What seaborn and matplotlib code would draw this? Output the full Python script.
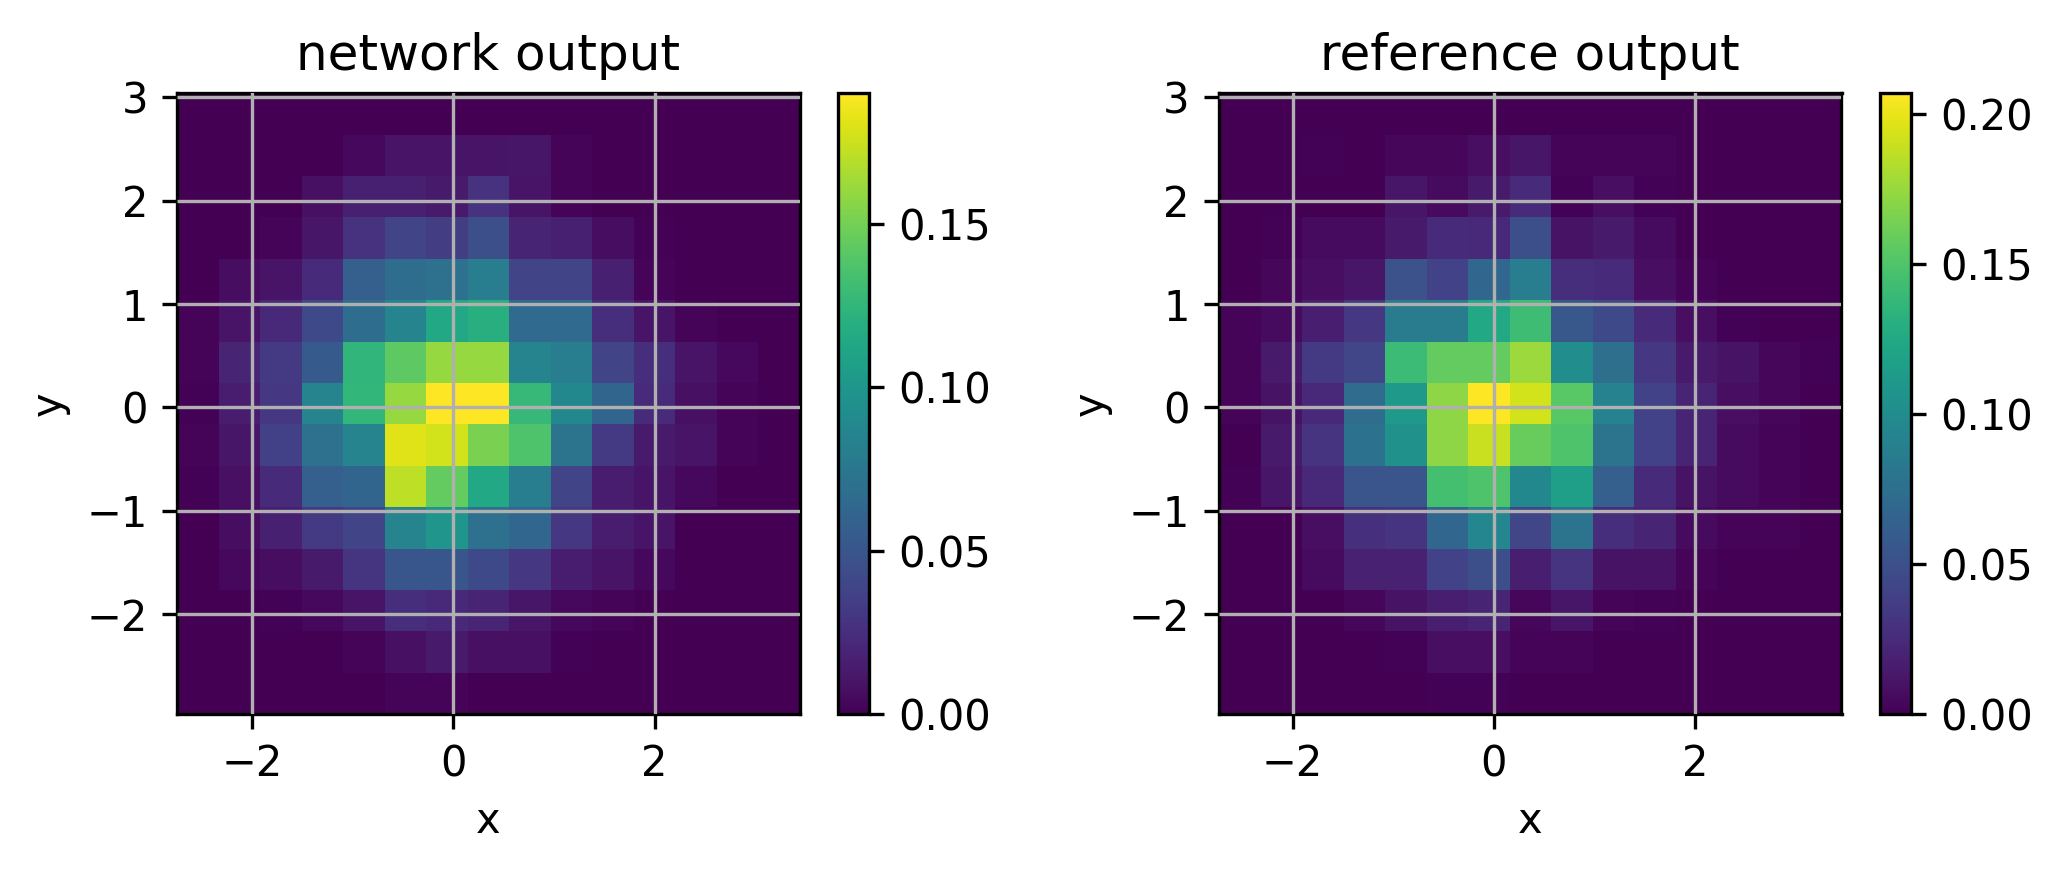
import numpy as np
import pandas as pd
import matplotlib
matplotlib.use("Agg")
import matplotlib.pyplot as plt
import seaborn as sns

# extent of the 2d histograms
x_ranges = [(-2.74, 3.44), (-2.73, 3.45)]
y_range = (-2.97, 3.04)
n_bins = 15

# densities per row, top row (largest y) first
network_output = [
    [0, 0, 0, 0, 0, 0, 0, 0, 0, 0, 0, 0, 0, 0, 0],
    [0, 0, 0, 0, .004, .010, .010, .010, .011, .002, 0, 0, 0, 0, 0],
    [0, 0, 0, .008, .017, .017, .013, .027, .010, .002, 0, 0, 0, 0, 0],
    [0, 0, .002, .011, .027, .038, .034, .046, .019, .017, .006, .001, 0, 0, 0],
    [0, .006, .010, .023, .057, .067, .070, .080, .038, .038, .017, .002, 0, 0, 0],
    [.002, .010, .021, .042, .067, .086, .114, .120, .065, .065, .025, .010, .002, 0, 0],
    [.002, .019, .032, .053, .124, .143, .160, .160, .086, .080, .038, .025, .010, .004, 0],
    [.001, .015, .030, .086, .125, .160, .190, .190, .127, .089, .061, .023, .008, .002, 0],
    [.002, .011, .036, .070, .086, .181, .177, .152, .137, .072, .032, .013, .010, .002, 0],
    [.001, .008, .023, .057, .061, .171, .144, .114, .080, .038, .015, .010, .004, 0, 0],
    [0, .006, .017, .032, .038, .086, .099, .070, .063, .030, .015, .010, 0, 0, 0],
    [0, .004, .006, .013, .029, .051, .051, .042, .030, .015, .010, .004, 0, 0, 0],
    [0, 0, .001, .004, .010, .025, .021, .019, .011, .004, .002, 0, 0, 0, 0],
    [0, 0, 0, 0, .002, .008, .013, .008, .008, .001, 0, 0, 0, 0, 0],
    [0, 0, 0, 0, 0, .002, .002, 0, 0, 0, 0, 0, 0, 0, 0],
]
reference_output = [
    [0, 0, 0, 0, 0, 0, 0, 0, 0, 0, 0, 0, 0, 0, 0],
    [0, 0, .001, 0, .004, .004, .008, .012, .002, .002, .002, 0, 0, 0, 0],
    [0, 0, 0, 0, .012, .006, .014, .025, .001, .008, .001, 0, 0, 0, 0],
    [0, .001, .006, .006, .014, .025, .023, .050, .010, .014, .006, 0, 0, 0, 0],
    [0, .004, .008, .012, .052, .041, .068, .087, .027, .025, .008, .002, 0, 0, 0],
    [.002, .006, .017, .033, .085, .085, .124, .143, .056, .046, .025, .008, .001, 0, 0],
    [.002, .014, .035, .043, .141, .157, .157, .176, .101, .075, .033, .014, .010, .004, .001],
    [.002, .010, .023, .072, .112, .172, .207, .193, .153, .091, .041, .021, .008, .004, 0],
    [0, .014, .031, .077, .104, .172, .190, .159, .149, .079, .041, .021, .006, .002, 0],
    [.001, .012, .023, .054, .054, .145, .149, .097, .116, .062, .025, .010, .006, .002, 0],
    [0, 0, .008, .029, .031, .068, .095, .043, .079, .027, .021, .006, .002, .002, 0],
    [0, 0, .006, .019, .019, .041, .050, .017, .031, .010, .010, .002, 0, 0, 0],
    [0, 0, 0, .004, .010, .017, .021, .004, .012, .002, .001, 0, 0, 0, 0],
    [0, 0, 0, 0, .001, .008, .008, .002, .002, 0, 0, 0, 0, 0, 0],
    [0, 0, 0, 0, 0, .001, .001, 0, 0, 0, 0, 0, 0, 0, 0],
]

panel_titles = ["network output", "reference output"]
x_ticks = [-2, 0, 2]
y_ticks = [-2, -1, 0, 1, 2, 3]
cbar_ticks = [[0, .05, .10, .15], [0, .05, .10, .15, .20]]

W, H = 2061, 870


def box(left, right, top, bottom):
    # pixel box to figure fractions
    return [left / W, 1 - bottom / H, (right - left) / W, (bottom - top) / H]


def to_long(rows, x_mid, y_mid):
    # rows run top to bottom, so y is reversed
    df = pd.DataFrame(rows, index=y_mid[::-1], columns=x_mid)
    df = df.stack().rename("density").reset_index()
    df.columns = ["y", "x", "density"]
    return df


fig = plt.figure(figsize=(W / 300, H / 300), dpi=300)

panels = [
    (network_output, box(177.3, 799.5, 93.3, 714.3), box(838.3, 869.3, 93.3, 714.3)),
    (reference_output, box(1219, 1841.5, 93.3, 714.3), box(1879.5, 1910.7, 93.3, 714.3)),
]

for i, (rows, ax_box, cax_box) in enumerate(panels):
    ax = fig.add_axes(ax_box)
    cax = fig.add_axes(cax_box)
    x_edges = np.linspace(x_ranges[i][0], x_ranges[i][1], n_bins + 1)
    y_edges = np.linspace(y_range[0], y_range[1], n_bins + 1)
    x_mid = (x_edges[:-1] + x_edges[1:]) / 2
    y_mid = (y_edges[:-1] + y_edges[1:]) / 2
    sns.histplot(data=to_long(rows, x_mid, y_mid), x="x", y="y", weights="density",
                 bins=[x_edges, y_edges], cmap="viridis", thresh=None,
                 cbar=True, cbar_ax=cax, ax=ax)
    ax.set_xlim(x_ranges[i])
    ax.set_ylim(y_range)
    ax.set_xticks(x_ticks)
    ax.set_yticks(y_ticks)
    ax.set_axisbelow(False)
    ax.grid(True)
    ax.set_xlabel("x", labelpad=3.4)
    ax.set_ylabel("y")
    ax.set_title(panel_titles[i], pad=5.7)
    cax.set_yticks(cbar_ticks[i])
    cax.set_yticklabels(["%.2f" % t for t in cbar_ticks[i]])

plt.savefig("out.png", dpi=300)
